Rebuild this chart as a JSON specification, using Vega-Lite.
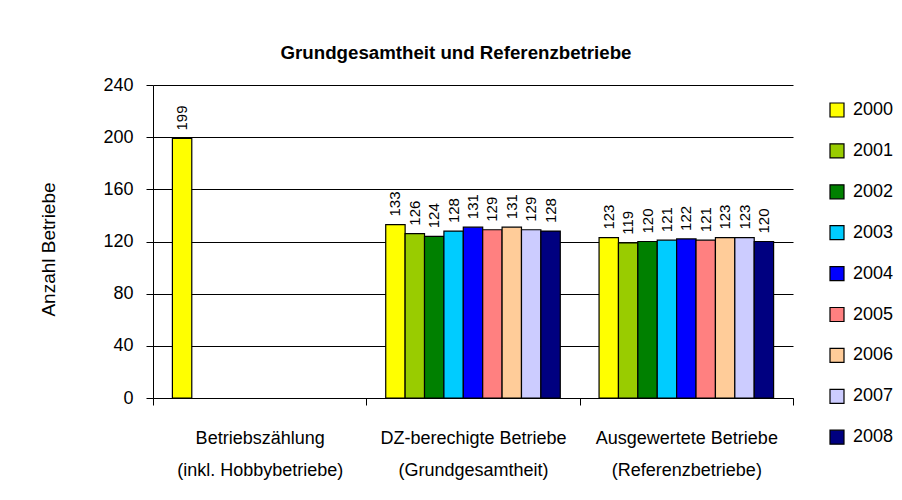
{
  "$schema": "https://vega.github.io/schema/vega-lite/v6.json",
  "width": 640,
  "height": 313,
  "autosize": {"type": "none"},
  "padding": {"left": 153, "top": 85, "right": 109, "bottom": 102},
  "background": "white",
  "title": {
    "text": "Grundgesamtheit und Referenzbetriebe",
    "font": "Liberation Sans",
    "fontSize": 18.7,
    "fontWeight": "bold",
    "color": "#000000",
    "anchor": "middle",
    "frame": "group",
    "dx": -17,
    "dy": 30,
    "offset": 28,
    "baseline": "alphabetic"
  },
  "config": {
    "view": {"stroke": null},
    "font": "Liberation Sans",
    "axis": {
      "labelFont": "Liberation Sans",
      "titleFont": "Liberation Sans",
      "labelColor": "#000000",
      "titleColor": "#000000",
      "domainColor": "#000000",
      "tickColor": "#000000",
      "gridColor": "#000000"
    }
  },
  "data": {
    "values": [
      {"cat": "Betriebszählung|(inkl. Hobbybetriebe)", "year": "2000", "n": 199},
      {"cat": "DZ-berechigte Betriebe|(Grundgesamtheit)", "year": "2000", "n": 133},
      {"cat": "DZ-berechigte Betriebe|(Grundgesamtheit)", "year": "2001", "n": 126},
      {"cat": "DZ-berechigte Betriebe|(Grundgesamtheit)", "year": "2002", "n": 124},
      {"cat": "DZ-berechigte Betriebe|(Grundgesamtheit)", "year": "2003", "n": 128},
      {"cat": "DZ-berechigte Betriebe|(Grundgesamtheit)", "year": "2004", "n": 131},
      {"cat": "DZ-berechigte Betriebe|(Grundgesamtheit)", "year": "2005", "n": 129},
      {"cat": "DZ-berechigte Betriebe|(Grundgesamtheit)", "year": "2006", "n": 131},
      {"cat": "DZ-berechigte Betriebe|(Grundgesamtheit)", "year": "2007", "n": 129},
      {"cat": "DZ-berechigte Betriebe|(Grundgesamtheit)", "year": "2008", "n": 128},
      {"cat": "Ausgewertete Betriebe|(Referenzbetriebe)", "year": "2000", "n": 123},
      {"cat": "Ausgewertete Betriebe|(Referenzbetriebe)", "year": "2001", "n": 119},
      {"cat": "Ausgewertete Betriebe|(Referenzbetriebe)", "year": "2002", "n": 120},
      {"cat": "Ausgewertete Betriebe|(Referenzbetriebe)", "year": "2003", "n": 121},
      {"cat": "Ausgewertete Betriebe|(Referenzbetriebe)", "year": "2004", "n": 122},
      {"cat": "Ausgewertete Betriebe|(Referenzbetriebe)", "year": "2005", "n": 121},
      {"cat": "Ausgewertete Betriebe|(Referenzbetriebe)", "year": "2006", "n": 123},
      {"cat": "Ausgewertete Betriebe|(Referenzbetriebe)", "year": "2007", "n": 123},
      {"cat": "Ausgewertete Betriebe|(Referenzbetriebe)", "year": "2008", "n": 120}
    ]
  },
  "encoding": {
    "x": {
      "field": "cat",
      "type": "nominal",
      "sort": null,
      "scale": {"paddingInner": 0, "paddingOuter": 0},
      "axis": {
        "title": null,
        "labelAngle": 0,
        "labelExpr": "datum.value ? split(datum.value, '|') : ''",
        "labelFontSize": 18,
        "labelLineHeight": 32,
        "labelLimit": 0,
        "labelPadding": 24,
        "tickBand": "extent",
        "tickSize": 7,
        "tickWidth": 1,
        "domainWidth": 1,
        "grid": false
      }
    },
    "xOffset": {
      "field": "year",
      "type": "nominal",
      "scale": {"paddingInner": 0, "paddingOuter": 1.23}
    },
    "y": {
      "field": "n",
      "type": "quantitative",
      "scale": {"domain": [0, 240], "nice": false},
      "axis": {
        "title": "Anzahl Betriebe",
        "titleFontSize": 19,
        "titleFontWeight": "normal",
        "titlePadding": 44,
        "titleY": 164,
        "values": [0, 40, 80, 120, 160, 200, 240],
        "labelFontSize": 18,
        "labelPadding": 13,
        "tickSize": 7,
        "grid": true,
        "gridWidth": 1,
        "gridOpacity": 1,
        "domainWidth": 1
      }
    }
  },
  "layer": [
    {
      "mark": {"type": "bar", "stroke": "#000000", "strokeWidth": 1.2, "opacity": 1},
      "encoding": {
        "color": {
          "field": "year",
          "type": "nominal",
          "scale": {
            "domain": ["2000", "2001", "2002", "2003", "2004", "2005", "2006", "2007", "2008"],
            "range": ["#FFFF00", "#99CC00", "#008000", "#00CCFF", "#0000FF", "#FF8080", "#FFCC99", "#CCCCFF", "#000080"]
          },
          "legend": {
            "title": null,
            "orient": "none",
            "legendX": 675,
            "legendY": 16,
            "padding": 0,
            "symbolType": "square",
            "symbolSize": 196,
            "symbolStrokeColor": "#000000",
            "symbolStrokeWidth": 1.2,
            "labelFont": "Liberation Sans",
            "labelFontSize": 18,
            "labelColor": "#000000",
            "labelOffset": 7,
            "rowPadding": 20.9
          }
        }
      }
    },
    {
      "mark": {
        "type": "text",
        "angle": 270,
        "align": "left",
        "baseline": "middle",
        "dx": 8,
        "font": "Liberation Sans",
        "fontSize": 15,
        "color": "#000000"
      },
      "encoding": {"text": {"field": "n", "type": "quantitative"}}
    }
  ]
}
